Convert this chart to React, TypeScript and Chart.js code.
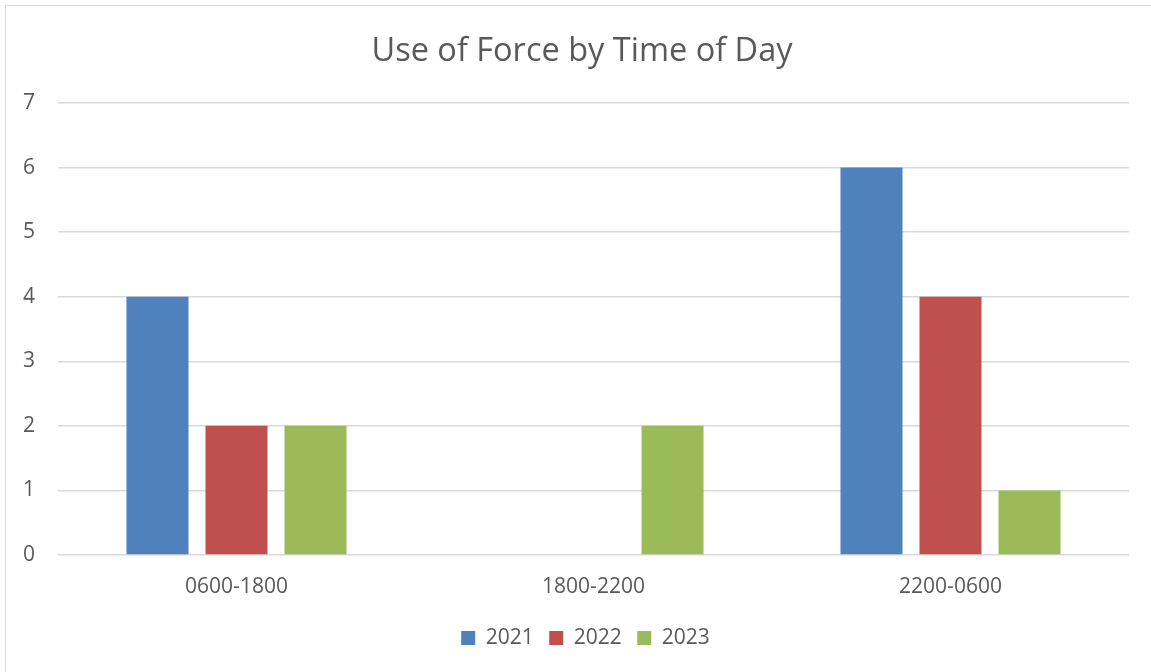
import React, { useEffect, useRef } from "react";
import { Chart, registerables } from "chart.js";

Chart.register(...registerables);

const categories = ["0600-1800", "1800-2200", "2200-0600"];
const values2021 = [4, 0, 6];
const values2022 = [2, 0, 4];
const values2023 = [2, 2, 1];
const seriesLabels = ["2021", "2022", "2023"];
const yTicks = [0, 1, 2, 3, 4, 5, 6, 7];

const FONT = "'Open Sans', 'Liberation Sans', sans-serif";
const TEXT = "#595959";

const shiftBoxes = {
  id: "shiftBoxes",
  afterLayout(chart: any) {
    if (chart.legend) {
      chart.legend.left += 21;
      chart.legend.right += 21;
    }
    if (chart.titleBlock) {
      chart.titleBlock.left += 17.5;
      chart.titleBlock.right += 17.5;
    }
  },
};

export default function App() {
  const ref = useRef<HTMLCanvasElement | null>(null);
  useEffect(() => {
    if (!ref.current) return;
    const chart = new Chart(ref.current, {
      type: "bar",
      data: {
        labels: categories,
        datasets: [
          { label: seriesLabels[0], data: values2021, backgroundColor: "#4F81BD" },
          { label: seriesLabels[1], data: values2022, backgroundColor: "#C0504D" },
          { label: seriesLabels[2], data: values2023, backgroundColor: "#9BBB59" },
        ],
      },
      plugins: [shiftBoxes],
      options: {
        animation: false,
        responsive: false,
        devicePixelRatio: 1,
        layout: { padding: { left: 0, right: 22, top: 0, bottom: 13.5 } },
        datasets: { bar: { categoryPercentage: 0.664, barPercentage: 0.785 } },
        plugins: {
          title: {
            display: true,
            text: "Use of Force by Time of Day",
            color: TEXT,
            font: { family: FONT, size: 32.5, weight: "normal" },
            padding: { top: 32.5, bottom: 31.5 },
          },
          legend: {
            position: "bottom",
            labels: {
              color: TEXT,
              font: { family: FONT, size: 21 },
              boxWidth: 14,
              boxHeight: 14,
              padding: 15.5,
            },
          },
          tooltip: { enabled: false },
        },
        scales: {
          x: {
            grid: { display: false, drawTicks: false },
            border: { display: false },
            ticks: { color: TEXT, font: { family: FONT, size: 21 }, padding: 19 },
            afterFit: (scale: any) => {
              scale.height = 57;
            },
          },
          y: {
            min: yTicks[0],
            max: yTicks[yTicks.length - 1],
            grid: { color: "#d9d9d9", lineWidth: 1.5, drawTicks: false },
            border: { display: false },
            ticks: {
              stepSize: 1,
              color: TEXT,
              font: { family: FONT, size: 21 },
              padding: 23,
            },
            afterFit: (scale: any) => {
              scale.width = 58;
            },
          },
        },
      },
    });
    return () => chart.destroy();
  }, []);
  return (
    <div
      style={{
        position: "fixed",
        left: 0,
        top: 0,
        width: 1151,
        height: 672,
        overflow: "hidden",
        background: "#fff",
      }}
    >
      <div
        style={{
          position: "absolute",
          left: 5,
          top: 5,
          width: 1200,
          height: 700,
          border: "1.5px solid #d9d9d9",
        }}
      />
      <canvas
        ref={ref}
        width={1151}
        height={672}
        style={{ position: "absolute", left: 0, top: 0 }}
      />
    </div>
  );
}
